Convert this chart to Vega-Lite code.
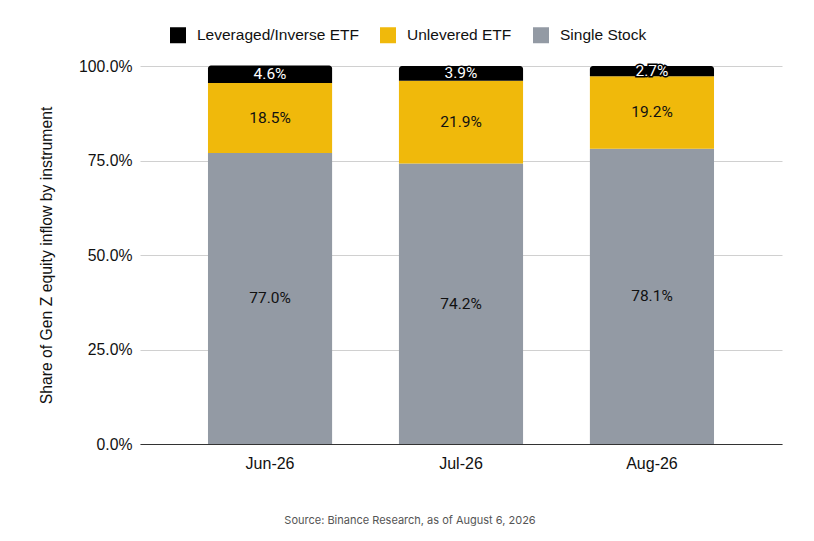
{
  "$schema": "https://vega.github.io/schema/vega-lite/v6.json",
  "width": 642,
  "height": 378,
  "autosize": "none",
  "padding": {"left": 140, "top": 66, "right": 32, "bottom": 97},
  "background": "white",
  "config": {
    "font": "Liberation Sans",
    "view": {"stroke": null}
  },
  "title": {
    "text": "Source: Binance Research, as of August 6, 2026",
    "orient": "bottom",
    "anchor": "middle",
    "frame": "group",
    "dx": -51,
    "offset": 44,
    "font": "Inter",
    "fontSize": 11,
    "fontWeight": "normal",
    "color": "#555555"
  },
  "data": {
    "values": [
      {"month": "Jun-26", "type": "Single Stock", "value": 0.770, "order": 1},
      {"month": "Jun-26", "type": "Unlevered ETF", "value": 0.185, "order": 2},
      {"month": "Jun-26", "type": "Leveraged/Inverse ETF", "value": 0.046, "order": 3},
      {"month": "Jul-26", "type": "Single Stock", "value": 0.742, "order": 1},
      {"month": "Jul-26", "type": "Unlevered ETF", "value": 0.219, "order": 2},
      {"month": "Jul-26", "type": "Leveraged/Inverse ETF", "value": 0.039, "order": 3},
      {"month": "Aug-26", "type": "Single Stock", "value": 0.781, "order": 1},
      {"month": "Aug-26", "type": "Unlevered ETF", "value": 0.192, "order": 2},
      {"month": "Aug-26", "type": "Leveraged/Inverse ETF", "value": 0.027, "order": 3}
    ]
  },
  "transform": [
    {"stack": "value", "groupby": ["month"], "sort": [{"field": "order"}], "as": ["v0", "v1"]},
    {"calculate": "(datum.v0 + datum.v1) / 2", "as": "mid"}
  ],
  "encoding": {
    "x": {
      "field": "month",
      "type": "nominal",
      "sort": ["Jun-26", "Jul-26", "Aug-26"],
      "scale": {"paddingInner": 0.35, "paddingOuter": 0.356},
      "axis": {
        "title": null,
        "labelAngle": 0,
        "labelFontSize": 16,
        "labelColor": "#111111",
        "labelPadding": 11,
        "ticks": false,
        "domainColor": "#333333",
        "domainWidth": 1
      }
    }
  },
  "layer": [
    {
      "transform": [{"filter": "datum.order < 3"}],
      "mark": {"type": "bar"},
      "encoding": {
        "y": {
          "field": "v0",
          "type": "quantitative",
          "scale": {"domain": [0, 1]},
          "axis": {
            "title": "Share of Gen Z equity inflow by instrument",
            "titleFontSize": 15.75,
            "titleFontWeight": "normal",
            "titleColor": "#111111",
            "titlePadding": 24,
            "format": ".1%",
            "values": [0, 0.25, 0.5, 0.75, 1],
            "labelFontSize": 15.75,
            "labelColor": "#111111",
            "labelPadding": 8,
            "ticks": false,
            "domain": false,
            "gridColor": "#d0d0d0",
            "gridWidth": 1
          }
        },
        "y2": {"field": "v1"},
        "color": {
          "field": "type",
          "type": "nominal",
          "scale": {
            "domain": ["Leveraged/Inverse ETF", "Unlevered ETF", "Single Stock"],
            "range": ["#000000", "#F0B90B", "#939AA4"]
          },
          "legend": {
            "title": null,
            "orient": "none",
            "legendX": 30,
            "legendY": -39,
            "direction": "horizontal",
            "symbolType": "square",
            "symbolSize": 256,
            "symbolStrokeWidth": 0,
            "labelFontSize": 15.5,
            "labelColor": "#111111",
            "labelOffset": 11,
            "labelLimit": 400,
            "columnPadding": 21
          }
        }
      }
    },
    {
      "transform": [{"filter": "datum.order == 3"}],
      "mark": {"type": "bar", "cornerRadiusTopLeft": 3, "cornerRadiusTopRight": 3},
      "encoding": {
        "y": {"field": "v0", "type": "quantitative"},
        "y2": {"field": "v1"},
        "color": {"field": "type", "type": "nominal"}
      }
    },
    {
      "transform": [{"filter": "datum.order < 3"}],
      "mark": {"type": "text", "font": "Roboto", "fontSize": 15.5, "color": "#111111", "baseline": "middle"},
      "encoding": {
        "y": {"field": "mid", "type": "quantitative"},
        "text": {"field": "value", "type": "quantitative", "format": ".1%"}
      }
    },
    {
      "transform": [{"filter": "datum.order == 3"}],
      "mark": {"type": "text", "font": "Roboto", "fontSize": 15.5, "baseline": "middle", "stroke": "#000000", "strokeWidth": 3, "color": "#000000"},
      "encoding": {
        "y": {"field": "mid", "type": "quantitative"},
        "text": {"field": "value", "type": "quantitative", "format": ".1%"}
      }
    },
    {
      "transform": [{"filter": "datum.order == 3"}],
      "mark": {"type": "text", "font": "Roboto", "fontSize": 15.5, "baseline": "middle", "color": "#ffffff"},
      "encoding": {
        "y": {"field": "mid", "type": "quantitative"},
        "text": {"field": "value", "type": "quantitative", "format": ".1%"}
      }
    }
  ]
}
